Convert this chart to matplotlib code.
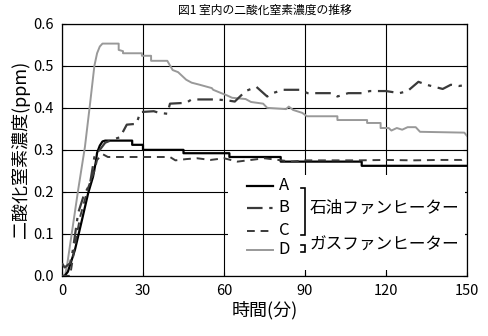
import matplotlib
matplotlib.use("Agg")
import matplotlib.pyplot as plt
from matplotlib.patches import Rectangle

plt.rcParams["font.family"] = ["Noto Sans CJK JP", "DejaVu Sans"]

# 時間(分), 濃度(ppm)
a_t = [0, 1, 2.2, 4.8, 7.4, 9.7, 11.5, 12.5, 13, 14, 15, 16, 26, 26, 30, 30, 45, 45,
       62, 62, 81, 81, 111, 111, 150]
a_v = [0.0, 0.0, 0.01, 0.062, 0.133, 0.197, 0.236, 0.27, 0.293, 0.31, 0.32, 0.322,
       0.322, 0.312, 0.312, 0.30, 0.30, 0.292, 0.292, 0.283, 0.283, 0.272, 0.272,
       0.262, 0.262]

b_t = [0, 1, 3, 4, 6, 8, 10.4, 12, 14, 16, 19, 21.5, 24, 27.6, 29, 34, 36, 39, 40,
       46, 48, 57, 61, 64, 68, 72, 76, 78, 82, 88, 91, 100, 102, 106, 111, 114, 120,
       125, 128, 132, 135, 138, 141, 144, 147, 150]
b_v = [0.03, 0.02, 0.03, 0.06, 0.15, 0.19, 0.22, 0.283, 0.30, 0.317, 0.325, 0.33,
       0.36, 0.362, 0.39, 0.392, 0.388, 0.386, 0.41, 0.412, 0.42, 0.42, 0.418, 0.415,
       0.44, 0.45, 0.427, 0.435, 0.443, 0.443, 0.435, 0.435, 0.427, 0.435, 0.435,
       0.44, 0.44, 0.435, 0.44, 0.462, 0.455, 0.45, 0.445, 0.455, 0.452, 0.455]

c_t = [0, 3, 5, 6.7, 9.7, 12, 13, 15, 17, 40, 42, 46, 50, 55, 60, 65, 70, 75, 80,
       85, 90, 100, 110, 120, 130, 140, 148, 150]
c_v = [0.0, 0.0, 0.08, 0.14, 0.21, 0.25, 0.276, 0.29, 0.283, 0.283, 0.275, 0.278,
       0.28, 0.276, 0.28, 0.272, 0.276, 0.28, 0.276, 0.272, 0.275, 0.275, 0.275,
       0.276, 0.275, 0.276, 0.276, 0.282]

d_t = [0, 1.1, 2, 3.6, 6, 8.5, 10.4, 12, 13, 14, 15, 21, 21, 22.6, 22.6, 29.6, 29.6,
       33, 33, 39, 41, 43, 46, 48, 51, 55.5, 56, 59, 61, 63, 68, 70, 74.5, 76, 83, 84,
       85.6, 89, 90.7, 102, 102, 113, 113, 118, 118, 121, 122, 124, 126, 128, 131,
       132.6, 149, 150]
d_v = [0.0, 0.0, 0.03, 0.10, 0.205, 0.307, 0.41, 0.50, 0.53, 0.546, 0.553, 0.553,
       0.538, 0.535, 0.53, 0.53, 0.524, 0.524, 0.512, 0.512, 0.49, 0.485, 0.467,
       0.46, 0.455, 0.447, 0.443, 0.435, 0.43, 0.424, 0.421, 0.414, 0.41, 0.40,
       0.397, 0.403, 0.395, 0.388, 0.38, 0.38, 0.371, 0.371, 0.364, 0.364, 0.352,
       0.352, 0.346, 0.352, 0.348, 0.354, 0.354, 0.343, 0.341, 0.333]

x_ticks = [0, 30, 60, 90, 120, 150]
y_ticks = [0.0, 0.1, 0.2, 0.3, 0.4, 0.5, 0.6]

fig = plt.figure(figsize=(4.88, 3.36), dpi=100)
ax = fig.add_axes([0.127, 0.179, 0.830, 0.750])

style_a = dict(color="black", lw=1.6)
style_b = dict(color="#3a3a3a", lw=1.6, dashes=(7, 3, 1.5, 3))
style_c = dict(color="#3a3a3a", lw=1.4, dashes=(4, 3))
style_d = dict(color="#999999", lw=1.4)

ax.plot(a_t, a_v, zorder=4, **style_a)
ax.plot(b_t, b_v, zorder=4, **style_b)
ax.plot(c_t, c_v, zorder=4, **style_c)
ax.plot(d_t, d_v, zorder=3, **style_d)

ax.set_xlim(0, 150)
ax.set_ylim(0, 0.6)
ax.set_xticks(x_ticks)
ax.set_yticks(y_ticks)
ax.set_yticklabels([f"{v:.1f}" for v in y_ticks])
ax.grid(True, color="black", lw=0.8)
ax.set_axisbelow(True)
ax.tick_params(direction="in", length=3, labelsize=10.5, right=True, pad=6)
for s in ax.spines.values():
    s.set_linewidth(0.9)

ax.set_title("図1 室内の二酸化窒素濃度の推移", fontsize=8.5, pad=7)
ax.set_xlabel("時間(分)", fontsize=13, labelpad=2)
ax.set_ylabel("二酸化窒素濃度(ppm)", fontsize=13, labelpad=2)

# 凡例 (白地でグリッドを隠す)
ax.add_patch(Rectangle((0.410, 0.024), 0.585, 0.378, transform=ax.transAxes,
                       facecolor="white", edgecolor="none", zorder=2))
rows = [("A", 0.357, style_a), ("B", 0.270, style_b),
        ("C", 0.179, style_c), ("D", 0.103, style_d)]
for lab, yy, kw in rows:
    ax.plot([0.457, 0.521], [yy, yy], transform=ax.transAxes, zorder=5, **kw)
    ax.text(0.535, yy, lab, transform=ax.transAxes, fontsize=12, va="center", zorder=6)

# かっこ
for top, bot in [(0.349, 0.163), (0.123, 0.095)]:
    ax.plot([0.590, 0.601, 0.601, 0.590], [top, top, bot, bot],
            transform=ax.transAxes, color="black", lw=1.2, zorder=7,
            solid_joinstyle="miter")
ax.text(0.612, 0.270, "石油ファンヒーター", transform=ax.transAxes, fontsize=12,
        va="center", zorder=6)
ax.text(0.612, 0.123, "ガスファンヒーター", transform=ax.transAxes, fontsize=12,
        va="center", zorder=6)

fig.savefig("out.png", dpi=100)
